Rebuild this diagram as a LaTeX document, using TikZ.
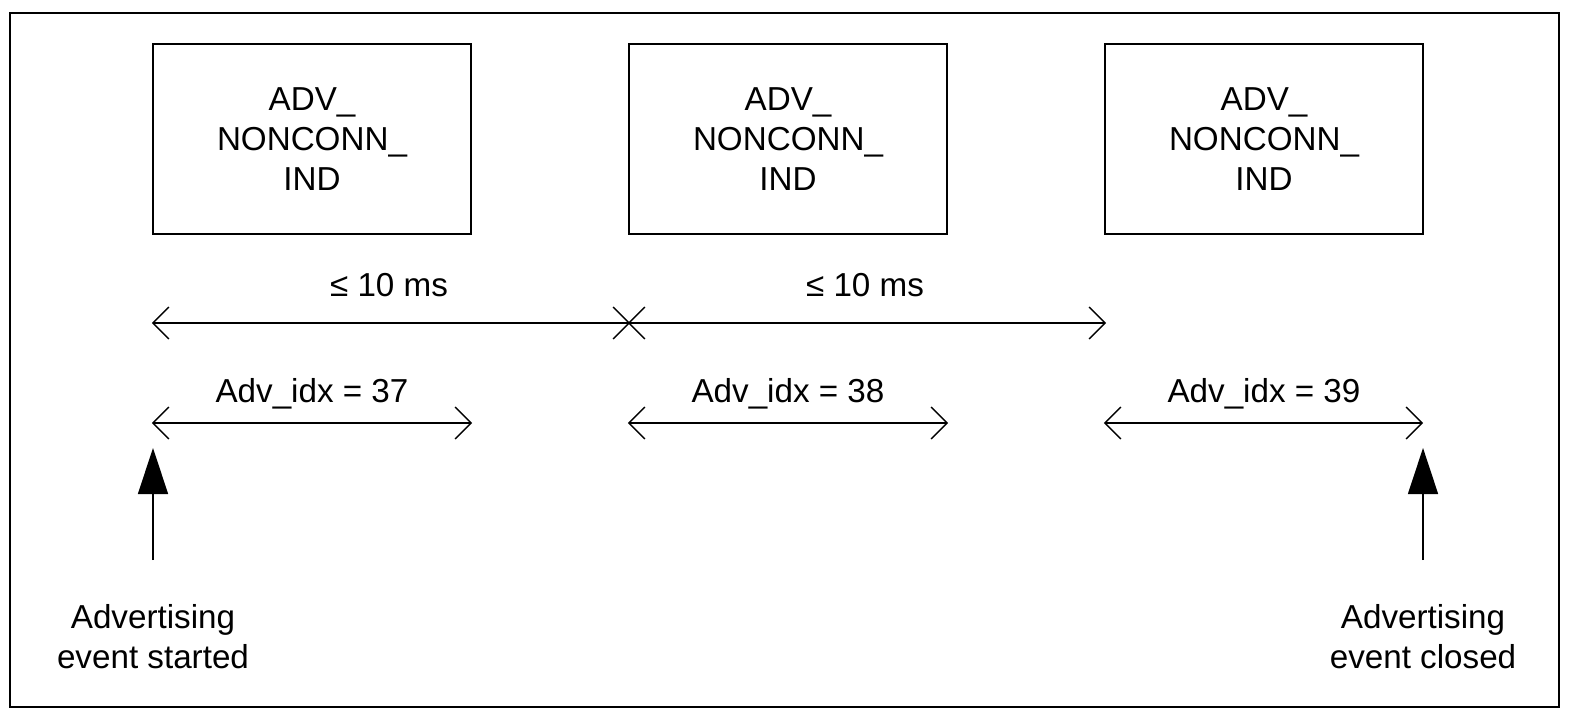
\documentclass[tikz,border=0pt]{standalone}
\usepackage{fontspec}
\setmainfont{Liberation Sans}
\usetikzlibrary{calc, shapes, arrows.meta}

\begin{document}
\begin{tikzpicture}[x=0.5pt,y=-0.5pt]
\tikzstyle{line} = [draw, line width=0.7pt, shorten <=-0.6pt, shorten >=-0.6pt, {Straight Barb[length=8pt,width=16pt]}-{Straight Barb[length=8pt,width=16pt]}]
\tikzstyle{uparrow} = [draw, line width=0.7pt, -{Triangle[length=23pt,width=15pt]}]
\tikzstyle{vertex}=[rectangle,draw,line width=0.8pt,minimum width=159pt,minimum height=95pt,inner sep=0pt,align=center,font=\fontsize{16.6}{20}\selectfont]
\tikzstyle{label}=[inner sep=1pt,align=center,font=\fontsize{16.6}{20}\selectfont]
\useasboundingbox (0,0) rectangle (1577,721);
\draw[line width=1.3pt] (10,13) rectangle (1559,707);
\node[vertex] (B_1) at (312,139) {ADV\_\\NONCONN\_\\IND};
\node[vertex] (B_2) at (788,139) {ADV\_\\NONCONN\_\\IND};
\node[vertex] (B_3) at (1264,139) {ADV\_\\NONCONN\_\\IND};
\coordinate (U_0) at (153,323);
\coordinate (U_1) at (629,323);
\coordinate (U_2) at (1105,323);
\node[label] (M_1) at (389,285) {≤ 10 ms};
\node[label] (M_2) at (865,285) {≤ 10 ms};
\coordinate (L_1) at (153,423);
\coordinate (R_1) at (471,423);
\coordinate (L_2) at (629,423);
\coordinate (R_2) at (947,423);
\coordinate (L_3) at (1105,423);
\coordinate (R_3) at (1422,423);
\node[label] (I_1) at (312,394) {Adv\_idx = 37};
\node[label] (I_2) at (788,394) {Adv\_idx = 38};
\node[label] (I_3) at (1264,394) {Adv\_idx = 39};
\coordinate (S_1) at (153,560);
\coordinate (T_1) at (153,448);
\coordinate (S_2) at (1423,560);
\coordinate (T_2) at (1423,448);
\node[label] (E_1) at (153,637) {Advertising\\event started};
\node[label] (E_2) at (1423,637) {Advertising\\event closed};
\path [line] (U_0) -- (U_1);
\path [line] (U_1) -- (U_2);
\path [line] (L_1) -- (R_1);
\path [line] (L_2) -- (R_2);
\path [line] (L_3) -- (R_3);
\path [uparrow] (S_1) -- (T_1);
\path [uparrow] (S_2) -- (T_2);

\end{tikzpicture}
\end{document}
